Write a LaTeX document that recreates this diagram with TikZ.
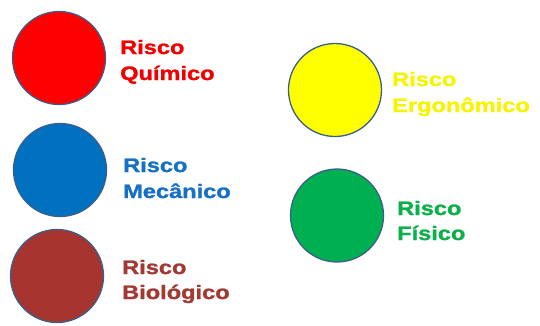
\documentclass[tikz,border=0pt]{standalone}
\usepackage{fontspec}
\setmainfont{Liberation Sans}
\newfontfamily\heavy{Liberation Sans Bold}[FakeBold=1.2]
\definecolor{outl}{HTML}{3A5F8A}
\definecolor{cred}{HTML}{FF0000}
\definecolor{cblue}{HTML}{0070C0}
\definecolor{cbrown}{HTML}{A5352E}
\definecolor{cyellow}{HTML}{FFFF00}
\definecolor{cgreen}{HTML}{00B050}
\definecolor{tred}{HTML}{F00000}
\definecolor{tblue}{HTML}{1670C4}
\definecolor{tbrown}{HTML}{A23A34}
\definecolor{tyellow}{HTML}{F5F500}
\definecolor{tgreen}{HTML}{0CB04A}
\begin{document}
\begin{tikzpicture}[x=1pt,y=-1pt,
  disc/.style={circle,draw=outl,line width=1.3pt,minimum size=93pt,inner sep=0pt},
  lbl/.style={anchor=base west,inner sep=0pt,font=\fontsize{19.5}{20}\selectfont\heavy}]
\useasboundingbox (0,0) rectangle (540,325);
\node[disc,fill=cred] (c1) at (59,58) {};
\node[disc,fill=cblue] (c2) at (60,170) {};
\node[disc,fill=cbrown] (c3) at (57,276) {};
\node[disc,fill=cyellow] (c4) at (335,90) {};
\node[disc,fill=cgreen] (c5) at (337,215.5) {};
\node[lbl,text=tred] (t1a) at (120,54) {\scalebox{1.21}[1]{Risco}};
\node[lbl,text=tred] (t1b) at (120,80) {\scalebox{1.21}[1]{Químico}};
\node[lbl,text=tblue] (t2a) at (123,172) {\scalebox{1.21}[1]{Risco}};
\node[lbl,text=tblue] (t2b) at (123,198) {\scalebox{1.21}[1]{Mecânico}};
\node[lbl,text=tbrown] (t3a) at (122,274) {\scalebox{1.21}[1]{Risco}};
\node[lbl,text=tbrown] (t3b) at (122,299) {\scalebox{1.21}[1]{Biológico}};
\node[lbl,text=tyellow] (t4a) at (392,86) {\scalebox{1.21}[1]{Risco}};
\node[lbl,text=tyellow] (t4b) at (392,112) {\scalebox{1.21}[1]{Ergonômico}};
\node[lbl,text=tgreen] (t5a) at (397,215) {\scalebox{1.21}[1]{Risco}};
\node[lbl,text=tgreen] (t5b) at (397,240) {\scalebox{1.21}[1]{Físico}};
\end{tikzpicture}
\end{document}
